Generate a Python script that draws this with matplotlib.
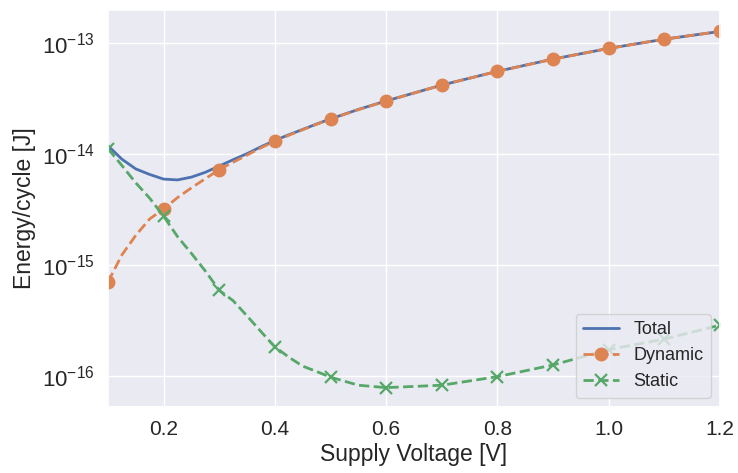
import matplotlib
matplotlib.use("Agg")
import matplotlib.pyplot as plt
import seaborn as sns

# supply voltage sweep [V] and energy per cycle [J]
voltage = [0.1, 0.125, 0.15, 0.175, 0.2, 0.225, 0.25, 0.275, 0.3, 0.325,
           0.35, 0.375, 0.4, 0.425, 0.45, 0.475, 0.5, 0.55, 0.6,
           0.7, 0.8, 0.9, 1.0, 1.1, 1.2]
e_total = [1.19e-14, 9.0e-15, 7.35e-15, 6.55e-15, 5.95e-15, 5.85e-15, 6.2e-15,
           6.85e-15, 7.8e-15, 8.9e-15, 1.01e-14, 1.165e-14, 1.33e-14,
           1.495e-14, 1.67e-14, 1.87e-14, 2.08e-14, 2.53e-14, 3.02e-14,
           4.2e-14, 5.59e-14, 7.21e-14, 9.0e-14, 1.09e-13, 1.28e-13]
e_dynamic = [7.0e-16, 1.23e-15, 1.85e-15, 2.6e-15, 3.2e-15, 4.05e-15, 4.96e-15,
             6.0e-15, 7.25e-15, 8.45e-15, 9.8e-15, 1.14e-14, 1.31e-14,
             1.48e-14, 1.66e-14, 1.86e-14, 2.07e-14, 2.52e-14, 3.01e-14,
             4.2e-14, 5.58e-14, 7.2e-14, 9.0e-14, 1.09e-13, 1.28e-13]
e_static = [1.12e-14, 7.9e-15, 5.5e-15, 4.0e-15, 2.75e-15, 1.8e-15, 1.27e-15,
            8.8e-16, 5.9e-16, 4.75e-16, 3.46e-16, 2.5e-16, 1.82e-16,
            1.47e-16, 1.22e-16, 1.09e-16, 9.7e-17, 8.2e-17, 7.8e-17,
            8.2e-17, 9.8e-17, 1.25e-16, 1.72e-16, 2.14e-16, 2.86e-16]
energy_ticks = [1e-16, 1e-15, 1e-14, 1e-13]
voltage_ticks = [0.2, 0.4, 0.6, 0.8, 1.0, 1.2]

sns.set_theme(style="darkgrid")
plt.rcParams["font.family"] = ["Liberation Sans", "DejaVu Sans"]

# markers only on the 0.1 V steps
marks = [i for i, v in enumerate(voltage) if abs(v * 10 - round(v * 10)) < 1e-6]

fig, ax = plt.subplots(figsize=(7.38, 4.73), dpi=100)
fig.subplots_adjust(left=0.1463, right=0.9756, bottom=0.1402, top=0.9789)

ax.plot(voltage, e_total, color="#4C72B0", lw=2.0, label="Total")
ax.plot(voltage, e_dynamic, color="#DD8452", lw=2.0, ls="--", marker="o",
        markersize=9, markevery=marks, label="Dynamic")
ax.plot(voltage, e_static, color="#55A868", lw=2.0, ls="--", marker="x",
        markersize=9, markeredgewidth=1.6, markevery=marks, label="Static")

ax.set_yscale("log")
ax.set_xlim(0.1, 1.2)
ax.set_ylim(5.25e-17, 2.0e-13)
ax.set_yticks(energy_ticks)
ax.set_xticks(voltage_ticks)
ax.minorticks_off()
ax.tick_params(axis="x", labelsize=15)
ax.tick_params(axis="y", labelsize=16)
ax.set_xlabel("Supply Voltage [V]", fontsize=16.5, labelpad=3)
ax.set_ylabel("Energy/cycle [J]", fontsize=16.5)
ax.legend(loc="lower right", fontsize=13)

fig.savefig("out.png", dpi=100)
